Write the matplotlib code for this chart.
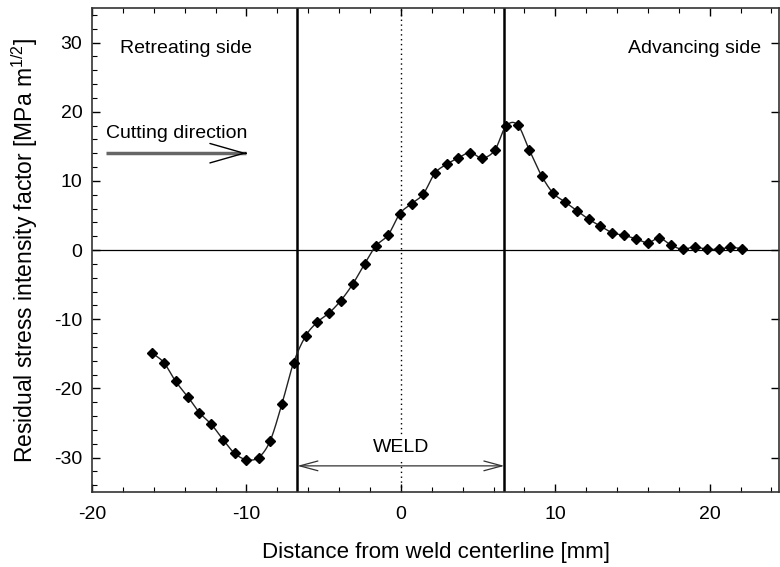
import numpy as np
import matplotlib
matplotlib.use("Agg")
import matplotlib.pyplot as plt
from matplotlib.ticker import MultipleLocator

plt.rcParams["font.family"] = ["Liberation Sans", "DejaVu Sans"]
plt.rcParams["mathtext.fontset"] = "custom"
plt.rcParams["mathtext.rm"] = "Liberation Sans"
plt.rcParams["mathtext.it"] = "Liberation Sans"
plt.rcParams["axes.unicode_minus"] = False

# distance from weld centerline [mm] and residual stress intensity factor
distance = [-16.09, -15.34, -14.58, -13.80, -13.05, -12.27, -11.52, -10.76, -10.00,
            -9.22, -8.47, -7.71, -6.95, -6.16, -5.40, -4.65, -3.89, -3.11, -2.35,
            -1.62, -0.82, -0.07, 0.69, 1.45, 2.20, 2.96, 3.71, 4.49, 5.25, 6.07,
            6.80, 7.56, 8.32, 9.12, 9.87, 10.60, 11.39, 12.18, 12.92, 13.69, 14.45,
            15.21, 15.99, 16.74, 17.52, 18.28, 19.03, 19.81, 20.59, 21.34, 22.08]
k_res = [-14.9, -16.3, -19.0, -21.2, -23.5, -25.2, -27.4, -29.4, -30.3,
         -30.0, -27.6, -22.3, -16.3, -12.4, -10.4, -9.1, -7.3, -4.9, -2.0,
         0.6, 2.2, 5.25, 6.7, 8.1, 11.1, 12.4, 13.3, 14.1, 13.3, 14.4,
         17.9, 18.1, 14.45, 10.7, 8.2, 7.0, 5.7, 4.43, 3.47, 2.5, 2.12,
         1.64, 1.06, 1.73, 0.68, 0.1, 0.48, 0.1, 0.14, 0.39, 0.2]
weld_edges = [-6.7, 6.7]


def catmull_rom(x, y, n=20):
    """Smooth curve through all points (Catmull-Rom spline)."""
    x = np.asarray(x, float)
    y = np.asarray(y, float)
    px = np.concatenate([[2 * x[0] - x[1]], x, [2 * x[-1] - x[-2]]])
    py = np.concatenate([[2 * y[0] - y[1]], y, [2 * y[-1] - y[-2]]])
    xs, ys = [], []
    t = np.linspace(0, 1, n, endpoint=False)
    for i in range(1, len(px) - 2):
        for p, out in ((px, xs), (py, ys)):
            p0, p1, p2, p3 = p[i - 1], p[i], p[i + 1], p[i + 2]
            out.extend(0.5 * (2 * p1 + (-p0 + p2) * t
                              + (2 * p0 - 5 * p1 + 4 * p2 - p3) * t ** 2
                              + (-p0 + 3 * p1 - 3 * p2 + p3) * t ** 3))
    xs.append(x[-1])
    ys.append(y[-1])
    return np.array(xs), np.array(ys)


fig = plt.figure(figsize=(7.8, 5.67), dpi=100)
ax = fig.add_axes([0.118, 0.132, 0.881, 0.854])

ax.set_xlim(-20, 24.5)
ax.set_ylim(-35, 35)

ax.axhline(0, color="black", lw=0.9, zorder=1)
ax.axvline(0, color="black", lw=1.0, ls=(0, (1, 2.5)), zorder=1)
for xe in weld_edges:
    ax.axvline(xe, color="black", lw=1.8, zorder=2)

sx, sy = catmull_rom(distance, k_res)
ax.plot(sx, sy, color="#222222", lw=1.0, zorder=3)
ax.plot(distance, k_res, ls="none", marker="D", ms=5, color="black", zorder=4)

# annotations
ax.text(-18.2, 29.2, "Retreating side", fontsize=14, ha="left", va="center")
ax.text(23.3, 29.2, "Advancing side", fontsize=14, ha="right", va="center")
ax.text(-19.1, 16.8, "Cutting direction", fontsize=14, ha="left", va="center")
# grey shaft with a thin open black head
ax.plot([-19.1, -10.0], [14.0, 14.0], color="#666666", lw=2.5, solid_capstyle="butt", zorder=2)
ax.annotate("", xy=(-10.0, 14.0), xytext=(-10.05, 14.0),
            arrowprops=dict(arrowstyle="->,head_length=2.45,head_width=0.7",
                            color="black", lw=1.0, shrinkA=0, shrinkB=0), zorder=3)
ax.text(0, -28.6, "WELD", fontsize=14, ha="center", va="center",
        bbox=dict(facecolor="white", edgecolor="none", pad=2), zorder=2)
ax.annotate("", xy=(weld_edges[1], -31.2), xytext=(weld_edges[0], -31.2),
            arrowprops=dict(arrowstyle="<->,head_length=1.3,head_width=0.35",
                            color="#333333", lw=0.9, shrinkA=0, shrinkB=0), zorder=3)

ax.set_xticks([-20, -10, 0, 10, 20])
ax.set_yticks([-30, -20, -10, 0, 10, 20, 30])
ax.xaxis.set_minor_locator(MultipleLocator(2))
ax.yaxis.set_minor_locator(MultipleLocator(2))
ax.tick_params(which="both", direction="in", top=True, right=True, labelsize=14)
ax.tick_params(which="major", length=6, width=1)
ax.tick_params(which="minor", length=3.5, width=0.8)
ax.tick_params(axis="y", which="minor", right=False)
ax.tick_params(axis="x", pad=10)
ax.tick_params(axis="y", pad=7)
for s in ax.spines.values():
    s.set_linewidth(1.2)
    s.set_color("#333333")

ax.set_xlabel("Distance from weld centerline [mm]", fontsize=16, labelpad=14)
ax.set_ylabel("Residual stress intensity factor [MPa m$^{\\mathregular{1/2}}$]",
              fontsize=16.5, labelpad=10)

fig.savefig("out.png", dpi=100)
